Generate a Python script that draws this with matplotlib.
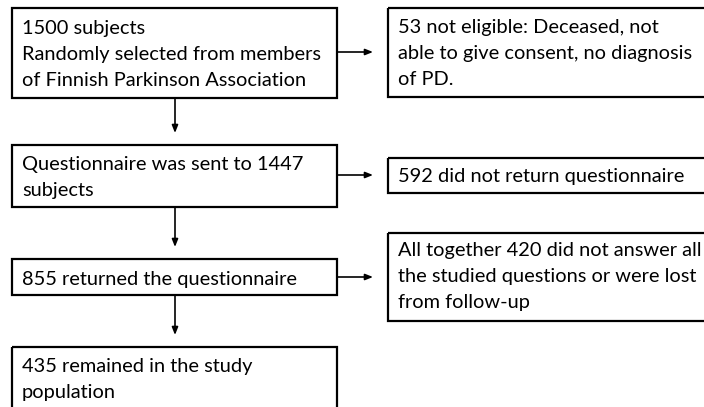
import matplotlib
matplotlib.use("Agg")
import matplotlib.pyplot as plt
from matplotlib.patches import Rectangle

plt.rcParams['font.family'] = ['Lato', 'DejaVu Sans']

# Flowchart content
main_texts = [
    ["1500 subjects", "Randomly selected from members", "of Finnish Parkinson Association"],
    ["Questionnaire was sent to 1447", "subjects"],
    ["855 returned the questionnaire"],
    ["435 remained in the study", "population"],
]
side_texts = [
    ["53 not eligible: Deceased, not", "able to give consent, no diagnosis", "of PD."],
    ["592 did not return questionnaire"],
    ["All together 420 did not answer all", "the studied questions or were lost", "from follow-up"],
]

# Layout (pixel coords, y downwards)
main_boxes = [(12, 8, 337, 98), (12, 145, 337, 207), (12, 259, 337, 295), (12, 347, 337, 420)]
main_base = [34, 170, 285, 372]
side_boxes = [(388, 8, 720, 97), (388, 158, 720, 193), (388, 233, 720, 321)]
side_base = [33, 182, 256]
side_arrow_y = [52, 175, 277]
line_sp = 26

W, H = 704, 407
fig = plt.figure(figsize=(W / 100, H / 100), dpi=100)
ax = fig.add_axes([0, 0, 1, 1])
ax.set_xlim(0, W)
ax.set_ylim(H, 0)
ax.axis('off')

fs = 14.4

def draw_box(box, lines, base, tx):
    x0, y0, x1, y1 = box
    ax.add_patch(Rectangle((x0, y0), x1 - x0, y1 - y0, fill=False,
                           edgecolor='black', linewidth=1.6, clip_on=False))
    for i, ln in enumerate(lines):
        ax.text(tx, base + i * line_sp, ln, fontsize=fs, va='baseline',
                ha='left', color='black')

for box, lines, base in zip(main_boxes, main_texts, main_base):
    draw_box(box, lines, base, box[0] + 10)
for box, lines, base in zip(side_boxes, side_texts, side_base):
    draw_box(box, lines, base, box[0] + 10)

arrow_kw = dict(arrowstyle='-|>,head_length=0.45,head_width=0.18', color='black',
                lw=1.2, shrinkA=0, shrinkB=0)
# vertical arrows
for i in range(len(main_boxes) - 1):
    ax.annotate('', xy=(175, main_boxes[i + 1][1] - 12), xytext=(175, main_boxes[i][3]),
                arrowprops=arrow_kw)
# horizontal arrows
for i, y in enumerate(side_arrow_y):
    ax.annotate('', xy=(373, y), xytext=(337, y), arrowprops=arrow_kw)

fig.savefig('out.png', dpi=100)
